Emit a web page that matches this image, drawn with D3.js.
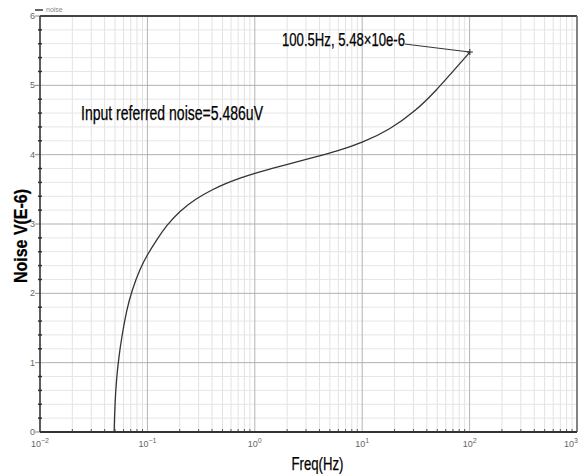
<!DOCTYPE html>
<html>
<head>
<meta charset="utf-8">
<script src="https://cdn.jsdelivr.net/npm/d3@7"></script>
<style>
  body { margin: 0; background: #fff; }
  svg { display: block; }
  .narrow { font-family: "Liberation Sans Narrow", "Liberation Sans", Arial, sans-serif; fill: #000; stroke: #000; stroke-width: 0.25px; }
  .tick-label { font-family: "Liberation Sans", Arial, sans-serif; font-size: 9px; fill: #666; }
</style>
</head>
<body>
<div id="chart"></div>
<script>
// noise curve
var freq  = [0.049, 0.0499, 0.0516, 0.0543, 0.0575, 0.0641, 0.0713, 0.0851, 0.1, 0.124, 0.151, 0.2, 0.287, 0.395, 0.546, 0.725, 1, 1.39, 1.84, 3.75, 6, 10, 18, 31.9, 49, 70, 100.5];
var noise = [0, 0.42, 0.775, 1.085, 1.36, 1.76, 2.03, 2.35, 2.56, 2.79, 2.98, 3.19, 3.37, 3.49, 3.59, 3.663, 3.733, 3.795, 3.846, 3.969, 4.057, 4.172, 4.359, 4.638, 4.928, 5.202, 5.478];

var xDecades = [-2, -1, 0, 1, 2, 3];      // tick labels 10^n
var yTicks = [0, 1, 2, 3, 4, 5, 6];
var marker = { f: 100.5, v: 5.48, label: "100.5Hz, 5.48\u00d710e-6" };
var noteText = "Input referred noise=5.486uV";

var width = 579, height = 474;
var margin = { top: 16, right: 2, bottom: 42, left: 40 };

var svg = d3.select('#chart').append('svg')
    .attr('width', width)
    .attr('height', height);

var x = d3.scaleLog().domain([1e-2, 1e3]).range([margin.left, width - margin.right]);
var y = d3.scaleLinear().domain([0, 6]).range([height - margin.bottom, margin.top]);

// grid lines: minor first, then major
var minorX = [];
xDecades.slice(0, -1).forEach(function (e) {
  for (var k = 2; k <= 9; k++) minorX.push(k * Math.pow(10, e));
});
var minorY = d3.range(0, 6.001, 0.2).filter(function (v) { return Math.abs(v - Math.round(v)) > 1e-6; });

var grid = svg.append('g');
grid.selectAll('.gx-minor').data(minorX).enter().append('line')
    .attr('x1', function (d) { return x(d); }).attr('x2', function (d) { return x(d); })
    .attr('y1', y(0)).attr('y2', y(6))
    .attr('stroke', '#e2e2e2').attr('stroke-width', 1);
grid.selectAll('.gy-minor').data(minorY).enter().append('line')
    .attr('x1', x(1e-2)).attr('x2', x(1e3))
    .attr('y1', function (d) { return y(d); }).attr('y2', function (d) { return y(d); })
    .attr('stroke', '#e6e6e6').attr('stroke-width', 1);
grid.selectAll('.gx-major').data(xDecades).enter().append('line')
    .attr('x1', function (d) { return x(Math.pow(10, d)); }).attr('x2', function (d) { return x(Math.pow(10, d)); })
    .attr('y1', y(0)).attr('y2', y(6))
    .attr('stroke', '#b4b4b4').attr('stroke-width', 1);
grid.selectAll('.gy-major').data(yTicks).enter().append('line')
    .attr('x1', x(1e-2)).attr('x2', x(1e3))
    .attr('y1', function (d) { return y(d); }).attr('y2', function (d) { return y(d); })
    .attr('stroke', '#b0b0b0').attr('stroke-width', 1);

// minor ticks on the axes
svg.append('g').selectAll('line').data(minorY).enter().append('line')
    .attr('x1', x(1e-2) - 2).attr('x2', x(1e-2) + 2)
    .attr('y1', function (d) { return y(d); }).attr('y2', function (d) { return y(d); })
    .attr('stroke', '#333').attr('stroke-width', 1.5);
svg.append('g').selectAll('line').data(minorX).enter().append('line')
    .attr('x1', function (d) { return x(d); }).attr('x2', function (d) { return x(d); })
    .attr('y1', y(0)).attr('y2', y(0) - 3)
    .attr('stroke', '#555').attr('stroke-width', 1);
svg.append('g').selectAll('line').data(yTicks).enter().append('line')
    .attr('x1', x(1e-2) - 5).attr('x2', x(1e-2))
    .attr('y1', function (d) { return y(d); }).attr('y2', function (d) { return y(d); })
    .attr('stroke', '#888').attr('stroke-width', 1);

// frame
svg.append('line').attr('x1', x(1e-2)).attr('x2', x(1e3)).attr('y1', y(6)).attr('y2', y(6))
    .attr('stroke', '#444').attr('stroke-width', 2);
svg.append('line').attr('x1', x(1e3)).attr('x2', x(1e3)).attr('y1', y(6)).attr('y2', y(0))
    .attr('stroke', '#666').attr('stroke-width', 1.5);
svg.append('line').attr('x1', x(1e-2)).attr('x2', x(1e3)).attr('y1', y(0)).attr('y2', y(0))
    .attr('stroke', '#333').attr('stroke-width', 2);
svg.append('line').attr('x1', x(1e-2)).attr('x2', x(1e-2)).attr('y1', y(6)).attr('y2', y(0))
    .attr('stroke', '#333').attr('stroke-width', 1.5);

// tick labels
svg.append('g').selectAll('text').data(yTicks).enter().append('text')
    .attr('class', 'tick-label')
    .attr('x', x(1e-2) - 5).attr('y', function (d) { return y(d) + 3; })
    .attr('text-anchor', 'end')
    .text(function (d) { return d; });

var last = xDecades[xDecades.length - 1];
var xl = svg.append('g').selectAll('text').data(xDecades).enter().append('text')
    .attr('class', 'tick-label')
    .attr('x', function (d) { return d === last ? width - 1 : x(Math.pow(10, d)); })
    .attr('y', y(0) + 15)
    .attr('text-anchor', function (d) { return d === last ? 'end' : 'middle'; });
xl.append('tspan').text('10');
xl.append('tspan').attr('dy', -4).style('font-size', '7px').text(function (d) { return d < 0 ? '\u2212' + (-d) : d; });

// curve
var line = d3.line()
    .x(function (d, i) { return x(freq[i]); })
    .y(function (d) { return y(d); })
    .curve(d3.curveBasis);

svg.append('path')
    .datum(noise)
    .attr('d', line)
    .attr('fill', 'none')
    .attr('stroke', '#333')
    .attr('stroke-width', 1.3);

// marker + leader line + label
var mx = x(marker.f), my = y(marker.v);
svg.append('path')
    .attr('d', 'M' + (mx - 3) + ',' + my + 'H' + (mx + 3) + 'M' + mx + ',' + (my - 3) + 'V' + (my + 3))
    .attr('stroke', '#222').attr('stroke-width', 1);
svg.append('line')
    .attr('x1', 405).attr('y1', my - 8)
    .attr('x2', mx).attr('y2', my)
    .attr('stroke', '#333').attr('stroke-width', 1);
svg.append('text')
    .attr('class', 'narrow')
    .attr('x', 282).attr('y', my - 6)
    .attr('font-size', 18)
    .attr('textLength', 123).attr('lengthAdjust', 'spacingAndGlyphs')
    .text(marker.label);

svg.append('text')
    .attr('class', 'narrow')
    .attr('x', 81).attr('y', 120)
    .attr('font-size', 19.5)
    .attr('textLength', 182).attr('lengthAdjust', 'spacingAndGlyphs')
    .text(noteText);

// axis titles
svg.append('text')
    .attr('class', 'narrow')
    .attr('x', 317.5).attr('y', 470)
    .attr('text-anchor', 'middle')
    .attr('font-size', 19)
    .attr('textLength', 52).attr('lengthAdjust', 'spacingAndGlyphs')
    .text('Freq(Hz)');
svg.append('text')
    .attr('class', 'narrow')
    .attr('transform', 'translate(26.5,236) rotate(-90)')
    .attr('text-anchor', 'middle')
    .attr('font-size', 18)
    .attr('font-weight', 'bold')
    .attr('textLength', 94).attr('lengthAdjust', 'spacingAndGlyphs')
    .text('Noise V(E-6)');

// legend
svg.append('line').attr('x1', 35).attr('x2', 43).attr('y1', 10).attr('y2', 10)
    .attr('stroke', '#333').attr('stroke-width', 1.5);
svg.append('text')
    .attr('x', 46).attr('y', 12)
    .style('font-family', 'Liberation Sans, Arial, sans-serif')
    .style('font-size', '7px').style('fill', '#888')
    .text('noise');
</script>
</body>
</html>
